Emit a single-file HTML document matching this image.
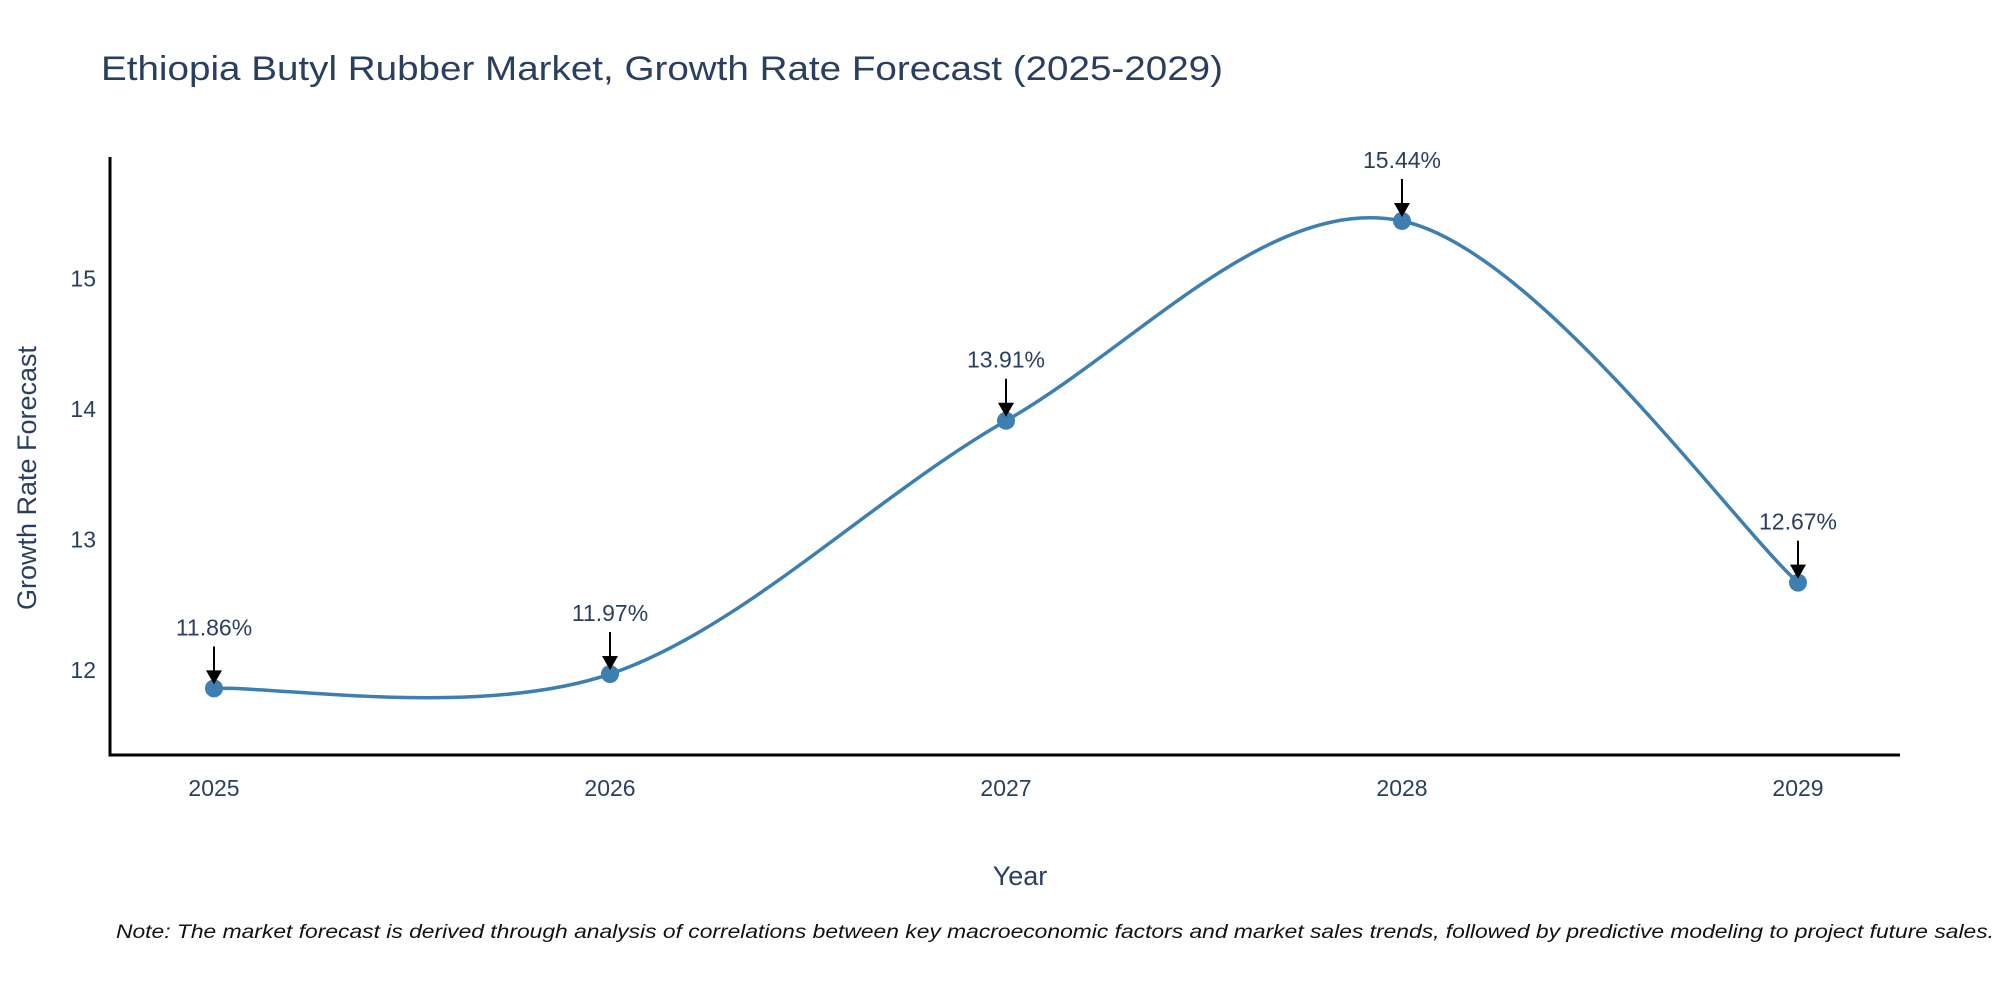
<!DOCTYPE html>
<html><head><meta charset="utf-8"><style>
html,body{margin:0;padding:0;background:#fff;}
svg{display:block;font-family:"Liberation Sans",sans-serif;}
</style></head><body>
<svg id="chart" width="2000" height="1000" viewBox="0 0 2000 1000">
<text x="101" y="80" font-size="34" fill="#2a3f5f" textLength="1122" lengthAdjust="spacingAndGlyphs">Ethiopia Butyl Rubber Market, Growth Rate Forecast (2025-2029)</text>
<g id="axes"></g>
<g id="series"></g>
<text x="1020" y="885" font-size="27" fill="#2a3f5f" text-anchor="middle">Year</text>
<text transform="translate(36,478) rotate(-90)" font-size="27" fill="#2a3f5f" text-anchor="middle">Growth Rate Forecast</text>
<text x="116" y="938" font-size="19" font-style="italic" fill="#111" textLength="1878" lengthAdjust="spacingAndGlyphs">Note: The market forecast is derived through analysis of correlations between key macroeconomic factors and market sales trends, followed by predictive modeling to project future sales.</text>
</svg>
<script>
const years = ["2025","2026","2027","2028","2029"];
const values = [11.86, 11.97, 13.91, 15.44, 12.67];
const labels = ["11.86%","11.97%","13.91%","15.44%","12.67%"];
const yTicks = [12, 13, 14, 15];

const NS = "http://www.w3.org/2000/svg";
const X0 = 214, DX = 396;
const xPos = i => X0 + i * DX;
const yMin = 11.35, yMax = 15.93, plotTop = 157, plotBottom = 755;
const yPos = v => plotBottom - (v - yMin) / (yMax - yMin) * (plotBottom - plotTop);

function mk(tag, attrs, parent) {
  const e = document.createElementNS(NS, tag);
  for (const k in attrs) e.setAttribute(k, attrs[k]);
  parent.appendChild(e);
  return e;
}
const axesG = document.getElementById('axes');
const seriesG = document.getElementById('series');

let yAxis = mk('line', {x1:110, y1:plotTop, x2:110, y2:plotBottom+1.5, stroke:'#000', 'stroke-width':3}, axesG);


let xAxis = mk('line', {x1:108.5, y1:plotBottom, x2:1900, y2:plotBottom, stroke:'#000', 'stroke-width':3}, axesG);



yTicks.forEach(t => {
  const e = mk('text', {x:96, y:yPos(t)+8, 'font-size':23, fill:'#2a3f5f', 'text-anchor':'end'}, axesG);
  e.textContent = t;
  
  
});
years.forEach((yr, i) => {
  const e = mk('text', {x:xPos(i), y:plotBottom+41, 'font-size':23, fill:'#2a3f5f', 'text-anchor':'middle'}, axesG);
  e.textContent = yr;
  
  
});

const pts = values.map((v, i) => [xPos(i), yPos(v)]);
let d = `M${pts[0][0]},${pts[0][1]}`;
const tens = 0.5;
for (let i = 0; i < pts.length - 1; i++) {
  const p0 = pts[Math.max(i-1,0)], p1 = pts[i], p2 = pts[i+1], p3 = pts[Math.min(i+2,pts.length-1)];
  const c1 = [p1[0] + (p2[0]-p0[0])*tens/3, p1[1] + (p2[1]-p0[1])*tens/3];
  const c2 = [p2[0] - (p3[0]-p1[0])*tens/3, p2[1] - (p3[1]-p1[1])*tens/3];
  d += ` C${c1[0]},${c1[1]} ${c2[0]},${c2[1]} ${p2[0]},${p2[1]}`;
}
const line = mk('path', {d:d, fill:'none', stroke:'#3d7fb0', 'stroke-width':3.5}, seriesG);



pts.forEach((p, i) => {
  const c = mk('circle', {cx:p[0], cy:p[1], r:9, fill:'#3d7fb0'}, seriesG);
  
  
  const a = mk('line', {x1:p[0], y1:p[1]-42, x2:p[0], y2:p[1]-16, stroke:'#000', 'stroke-width':2}, seriesG);
  
  
  const h = mk('polygon', {points:`${p[0]-8},${p[1]-18} ${p[0]+8},${p[1]-18} ${p[0]},${p[1]-4}`, fill:'#000'}, seriesG);
  
  
  const l = mk('text', {x:p[0], y:p[1]-53, 'font-size':23, fill:'#2a3f5f', 'text-anchor':'middle'}, seriesG);
  l.textContent = labels[i];
  
  
});
</script>
</body></html>
